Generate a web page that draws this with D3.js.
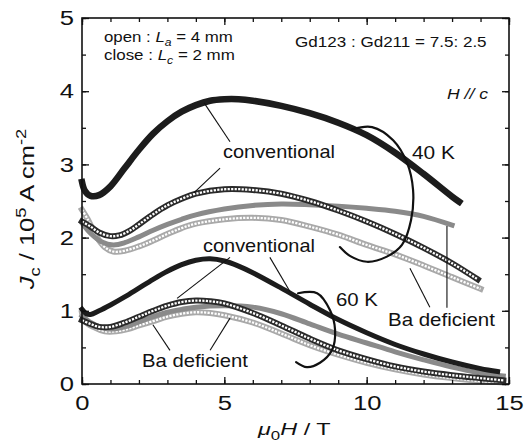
<!DOCTYPE html>
<html>
<head>
<meta charset="utf-8">
<script src="https://cdn.jsdelivr.net/npm/d3@7"></script>
<style>
  body { margin: 0; background: #fff; }
  svg { display: block; font-family: "Liberation Sans", Arial, Helvetica, sans-serif; }
</style>
</head>
<body>
<svg id="chart" width="529" height="441"></svg>
<script>
// ---- data: critical current density Jc (10^5 A/cm^2) vs applied field (T) ----
// 40 K, conventional, open (La = 4 mm)
const conv40OpenH  = [0,0.1,0.3,0.6,1.0,1.5,2.0,2.5,3.0,3.5,4.0,4.5,5.0,5.5,6.0,7.0,8.0,9.0,10.0,11.0,12.0,13.0,13.25];
const conv40OpenJc = [2.76,2.64,2.57,2.58,2.7,2.95,3.2,3.42,3.59,3.72,3.81,3.87,3.89,3.89,3.87,3.8,3.7,3.57,3.4,3.16,2.87,2.56,2.49];
// 40 K, conventional, close (Lc = 2 mm)
const conv40CloseH  = [0,0.3,0.6,1.0,1.3,1.7,2.0,2.5,3.0,3.5,4.0,5.0,6.0,7.0,8.0,9.0,10.0,11.0,12.0,13.0,13.9];
const conv40CloseJc = [2.22,2.15,2.07,2.02,2.03,2.1,2.18,2.32,2.44,2.53,2.6,2.66,2.65,2.6,2.5,2.37,2.22,2.05,1.86,1.65,1.43];
// 40 K, Ba deficient, open
const ba40OpenH  = [0,0.3,0.7,1.1,1.5,2.0,2.5,3.0,3.5,4.0,5.0,6.0,7.0,8.0,9.0,10.0,11.0,12.0,13.0];
const ba40OpenJc = [2.2,2.06,1.94,1.9,1.93,2.01,2.1,2.18,2.25,2.31,2.39,2.44,2.46,2.45,2.43,2.4,2.36,2.29,2.17];
// 40 K, Ba deficient, close
const ba40CloseH  = [0,0.2,0.5,0.8,1.1,1.5,2.0,2.5,3.0,3.5,4.0,5.0,6.0,7.0,8.0,9.0,10.0,11.0,12.0,13.0,14.0];
const ba40CloseJc = [2.38,2.25,2.02,1.87,1.81,1.82,1.88,1.96,2.05,2.13,2.19,2.25,2.27,2.24,2.15,2.04,1.9,1.77,1.62,1.46,1.3];
// 60 K, conventional, open
const conv60OpenH  = [0,0.15,0.3,0.6,1.0,1.5,2.0,2.5,3.0,3.5,4.0,4.5,5.0,5.5,6.0,7.0,8.0,9.0,10.0,11.0,12.0,13.0,14.0,14.6];
const conv60OpenJc = [1.02,0.96,0.95,1.0,1.08,1.19,1.31,1.43,1.54,1.63,1.69,1.71,1.68,1.61,1.52,1.31,1.09,0.88,0.7,0.54,0.41,0.3,0.21,0.17];
// 60 K, conventional, close
const conv60CloseH  = [0,0.3,0.6,1.0,1.5,2.0,2.5,3.0,3.5,4.0,4.5,5.0,6.0,7.0,8.0,9.0,10.0,11.0,12.0,13.0,14.0,14.8];
const conv60CloseJc = [0.87,0.82,0.78,0.78,0.84,0.92,1.0,1.07,1.12,1.14,1.13,1.1,0.97,0.8,0.62,0.46,0.34,0.24,0.17,0.12,0.08,0.05];
// 60 K, Ba deficient, open
const ba60OpenH  = [0,0.3,0.7,1.0,1.5,2.0,2.5,3.0,3.5,4.0,5.0,6.0,7.0,8.0,9.0,10.0,11.0,12.0,13.0,14.0,14.8];
const ba60OpenJc = [0.93,0.84,0.77,0.75,0.78,0.85,0.92,0.98,1.02,1.05,1.07,1.05,0.96,0.82,0.68,0.56,0.44,0.33,0.23,0.15,0.11];
// 60 K, Ba deficient, close
const ba60CloseH  = [0,0.1,0.4,0.8,1.2,1.6,2.0,2.5,3.0,3.5,4.0,4.5,5.0,6.0,7.0,8.0,9.0,10.0,11.0,12.0,13.0,14.0,14.8];
const ba60CloseJc = [0.97,0.86,0.78,0.72,0.72,0.75,0.8,0.86,0.92,0.96,0.98,0.97,0.94,0.84,0.69,0.53,0.4,0.29,0.2,0.13,0.08,0.04,0.02];

// axis ticks
const xMajorTicks = [0, 5, 10, 15];
const xMinorTicks = d3.range(0, 15.001, 1);
const yMajorTicks = [0, 1, 2, 3, 4, 5];
const yMinorTicks = d3.range(0, 5.001, 0.5);

// temperature brackets and leader lines, in data units [H, Jc]
const bracket40K = [[9.49,3.48],[10.19,3.51],[10.93,3.33],[11.42,3.02],[11.63,2.65],[11.56,2.24],[11.24,1.9],[10.71,1.74],[10.01,1.67],[9.41,1.75],[9.06,1.87]];
const bracket60K = [[7.59,1.24],[8.26,1.24],[8.71,1.01],[8.89,0.74],[8.78,0.46],[8.36,0.29],[7.9,0.23],[7.52,0.3]];
const leaders = [
  [[5.2,3.31],[4.29,3.84]],
  [[4.85,2.95],[3.93,2.61]],
  [[5.2,1.73],[3.34,1.17]],
  [[6.6,1.73],[7.31,1.26]],
  [[2.49,0.81],[3.09,0.46]],
  [[5.2,0.9],[4.5,0.46]],
  [[11.52,1.58],[12.22,1.05]],
  [[12.82,2.16],[12.82,1.04]]
];

// ---- layout ----
const svg = d3.select("#chart");
const x = d3.scaleLinear().domain([0, 15]).range([82, 509]);
const y = d3.scaleLinear().domain([0, 5]).range([384, 18]);
const ink = "#111";

// series styling: drawn back to front
const series = [
  { h: ba40CloseH,   j: ba40CloseJc,   kind: "hollow", color: "#a9a9a9" },
  { h: ba60CloseH,   j: ba60CloseJc,   kind: "hollow", color: "#a9a9a9" },
  { h: ba40OpenH,    j: ba40OpenJc,    kind: "solid",  color: "#8a8a8a", w: 5 },
  { h: ba60OpenH,    j: ba60OpenJc,    kind: "solid",  color: "#8a8a8a", w: 5 },
  { h: conv40CloseH, j: conv40CloseJc, kind: "hollow", color: "#2a2a2a" },
  { h: conv60CloseH, j: conv60CloseJc, kind: "hollow", color: "#2a2a2a" },
  { h: conv40OpenH,  j: conv40OpenJc,  kind: "solid",  color: "#1c1c1c", w: 6.5 },
  { h: conv60OpenH,  j: conv60OpenJc,  kind: "solid",  color: "#1c1c1c", w: 5 }
];

const line = d3.line()
  .x(d => x(d[0]))
  .y(d => y(d[1]))
  .curve(d3.curveCatmullRom.alpha(0.5));

const plot = svg.append("g");
series.forEach(s => {
  const pts = s.h.map((h, i) => [h, s.j[i]]);
  if (s.kind === "solid") {
    plot.append("path").attr("d", line(pts))
      .attr("fill", "none").attr("stroke", s.color)
      .attr("stroke-width", s.w).attr("stroke-linecap", "square");
  } else {
    // chain of hollow square markers
    plot.append("path").attr("d", line(pts))
      .attr("fill", "none").attr("stroke", s.color)
      .attr("stroke-width", 6).attr("stroke-linecap", "square");
    plot.append("path").attr("d", line(pts))
      .attr("fill", "none").attr("stroke", "#fff")
      .attr("stroke-width", 2.3).attr("stroke-dasharray", "2.2,1.3");
  }
});

// ---- frame and ticks (inward on all four sides) ----
function ticks(axis, scale, values, size, transform) {
  const g = svg.append("g").attr("transform", transform)
    .call(axis(scale).tickValues(values).tickSize(size).tickFormat(""));
  g.select(".domain").remove();
  g.selectAll(".tick line").attr("stroke", ink).attr("stroke-width", 1.3);
  return g;
}
ticks(d3.axisBottom, x, xMinorTicks, -4, `translate(0,${y(0)})`);
ticks(d3.axisBottom, x, xMajorTicks, -7, `translate(0,${y(0)})`);
ticks(d3.axisTop, x, xMinorTicks, -4, `translate(0,${y(5)})`);
ticks(d3.axisTop, x, xMajorTicks, -7, `translate(0,${y(5)})`);
ticks(d3.axisLeft, y, yMinorTicks, -4, `translate(${x(0)},0)`);
ticks(d3.axisLeft, y, yMajorTicks, -7, `translate(${x(0)},0)`);
ticks(d3.axisRight, y, yMinorTicks, -4, `translate(${x(15)},0)`);
ticks(d3.axisRight, y, yMajorTicks, -7, `translate(${x(15)},0)`);

svg.append("rect")
  .attr("x", x(0)).attr("y", y(5))
  .attr("width", x(15) - x(0)).attr("height", y(0) - y(5))
  .attr("fill", "none").attr("stroke", ink).attr("stroke-width", 1.6);

// tick labels
const stretch = 1.22;
const xLab = svg.append("g").attr("transform", `translate(0,${y(0)})`)
  .call(d3.axisBottom(x).tickValues(xMajorTicks).tickSize(0).tickPadding(11).tickFormat(d3.format("d")));
xLab.select(".domain").remove();
xLab.selectAll("text").attr("font-size", 21).attr("fill", ink)
  .attr("font-family", "Liberation Sans, Arial, sans-serif")
  .attr("transform", `scale(${stretch},1)`);

const yLab = svg.append("g").attr("transform", `translate(${x(0)},0)`)
  .call(d3.axisLeft(y).tickValues(yMajorTicks).tickSize(0).tickPadding(8).tickFormat(d3.format("d")));
yLab.select(".domain").remove();
yLab.selectAll("text").attr("font-size", 21).attr("fill", ink)
  .attr("font-family", "Liberation Sans, Arial, sans-serif")
  .attr("x", -8 / stretch)
  .attr("transform", `scale(${stretch},1)`);

// ---- annotations ----
const ann = svg.append("g");
leaders.forEach(seg => {
  ann.append("line")
    .attr("x1", x(seg[0][0])).attr("y1", y(seg[0][1]))
    .attr("x2", x(seg[1][0])).attr("y2", y(seg[1][1]))
    .attr("stroke", ink).attr("stroke-width", 1.1);
});
const bracketLine = d3.line().x(d => x(d[0])).y(d => y(d[1])).curve(d3.curveCatmullRom.alpha(0.5));
[bracket40K, bracket60K].forEach(b => {
  ann.append("path").attr("d", bracketLine(b))
    .attr("fill", "none").attr("stroke", ink).attr("stroke-width", 2.2)
    .attr("stroke-linecap", "round");
});

// rich text: parts = [{t, it, sub, sup}], horizontally fitted to a width
function label(px, py, parts, size, width, rotate) {
  const t = svg.append("text").attr("font-size", size).attr("fill", ink);
  parts.forEach(p => {
    const ts = t.append("tspan").text(p.t);
    if (p.it) ts.attr("font-style", "italic");
    if (p.sub) ts.attr("font-size", size * 0.72).attr("dy", size * 0.28);
    if (p.sup) ts.attr("font-size", size * 0.72).attr("dy", -size * 0.42);
    if (p.back) ts.attr("dy", p.back * size);
  });
  const w = t.node().getBBox().width;
  const sx = width ? width / w : 1;
  if (rotate) {
    t.attr("text-anchor", "middle")
     .attr("transform", `translate(${px},${py}) rotate(-90) scale(${sx},1)`);
  } else {
    t.attr("transform", `translate(${px},${py}) scale(${sx},1)`);
  }
  return t;
}

label(104, 42, [{t: "open : "}, {t: "L", it: true}, {t: "a", it: true, sub: true}, {t: " = 4 mm", back: -0.28}], 14, 129);
label(104, 60, [{t: "close : "}, {t: "L", it: true}, {t: "c", it: true, sub: true}, {t: " = 2 mm", back: -0.28}], 14, 131);
label(295, 47, [{t: "Gd123 : Gd211 = 7.5: 2.5"}], 14, 192);
label(447, 99, [{t: "H // c", it: true}], 14, 41);
label(223, 158, [{t: "conventional"}], 18, 112);
label(412, 159, [{t: "40 K"}], 18, 43);
label(203, 252, [{t: "conventional"}], 18, 112);
label(336, 306, [{t: "60 K"}], 18, 42);
label(142, 367, [{t: "Ba deficient"}], 18, 106);
label(388, 326, [{t: "Ba deficient"}], 18, 107);

// axis titles
label(258, 435, [{t: "\u03bc", it: true}, {t: "0", sub: true}, {t: "H", it: true, back: -0.28}, {t: " / T"}], 17, 74);
label(34, 209, [
  {t: "J", it: true}, {t: "c", sub: true}, {t: " / 10", back: -0.28},
  {t: "5", sup: true}, {t: " A cm", back: 0.42}, {t: "-2", sup: true}
], 20, 162, true);
</script>
</body>
</html>
